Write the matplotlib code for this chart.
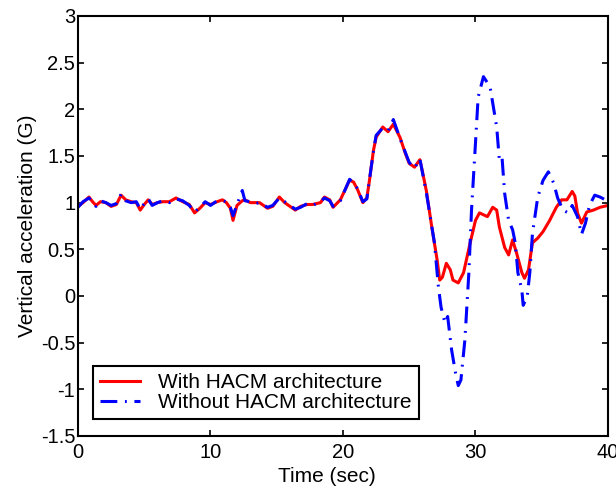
import matplotlib.pyplot as plt
import numpy as np

plt.rcParams['font.family'] = ['Liberation Sans', 'DejaVu Sans']

# -- DATA --
# red trace: with HACM
t_with = [0, 0.38, 0.83, 1.1, 1.36, 1.7, 2.1, 2.5, 2.9, 3.25, 3.6, 4.0, 4.4, 4.7,
          5.0, 5.3, 5.6, 6.0, 6.4, 6.9, 7.4, 7.9, 8.4, 8.8, 9.2, 9.6, 10.0, 10.5,
          10.9, 11.2, 11.5, 11.7, 12.0, 12.4, 12.6, 13.0, 13.4, 13.7, 14.3, 14.7,
          15.2, 15.6, 16.0, 16.4, 16.8, 17.3, 17.7, 18.3, 18.6, 19.0, 19.25, 19.8,
          20.5, 20.8, 21.1, 21.5, 21.8, 22.0, 22.3, 22.5, 23.0, 23.4, 23.8, 24.3,
          24.7, 25.0, 25.4, 25.8, 26.0, 26.3, 26.7, 27.1, 27.3, 27.5, 27.8, 28.1,
          28.3, 28.7, 29.1, 29.6, 30.0, 30.3, 30.9, 31.3, 31.6, 31.8, 32.2, 32.5,
          32.8, 33.1, 33.5, 33.7, 34.0, 34.3, 34.7, 35.1, 35.6, 36.1, 36.5, 36.9,
          37.3, 37.5, 37.7, 38.0, 38.4, 38.9, 39.4, 40.0]
g_with = [0.96, 1.0, 1.06, 1.01, 0.97, 1.01, 1.0, 0.96, 0.98, 1.08, 1.03, 1.01, 1.0, 0.92,
          0.98, 1.03, 0.98, 1.0, 1.01, 1.01, 1.05, 1.01, 0.98, 0.89, 0.94, 1.0, 0.98, 1.01,
          1.03, 1.0, 0.94, 0.81, 0.97, 1.02, 1.03, 1.0, 1.0, 1.0, 0.94, 0.96,
          1.06, 1.0, 0.96, 0.92, 0.96, 0.98, 0.98, 1.0, 1.06, 1.03, 0.95, 1.03,
          1.24, 1.22, 1.14, 1.0, 1.05, 1.24, 1.56, 1.70, 1.81, 1.76, 1.84, 1.70,
          1.53, 1.42, 1.38, 1.46, 1.33, 1.12, 0.74, 0.39, 0.17, 0.2, 0.35, 0.28,
          0.17, 0.14, 0.25, 0.57, 0.81, 0.89, 0.85, 0.95, 0.92, 0.74, 0.52, 0.44,
          0.60, 0.46, 0.25, 0.19, 0.28, 0.57, 0.62, 0.69, 0.81, 0.95, 1.03, 1.03,
          1.12, 1.07, 0.89, 0.78, 0.9, 0.92, 0.95, 0.97]

# blue trace: without HACM
t_without = [0, 0.38, 0.83, 1.1, 1.36, 1.7, 2.1, 2.5, 2.9, 3.25, 3.6, 4.0, 4.4, 4.7,
             5.0, 5.3, 5.6, 6.0, 6.4, 6.9, 7.4, 7.9, 8.4, 8.8, 9.2, 9.6, 10.0, 10.5,
             10.9, 11.2, 11.5, 11.7, 12.0, 12.4, 12.6, 13.0, 13.4, 13.7, 14.3, 14.7,
             15.2, 15.6, 16.0, 16.4, 16.8, 17.3, 17.7, 18.3, 18.6, 19.0, 19.25, 19.8,
             20.5, 20.8, 21.1, 21.5, 21.8, 22.0, 22.3, 22.5, 23.0, 23.4, 23.8, 24.3,
             24.7, 25.0, 25.4, 25.8, 26.0, 26.3, 26.9, 27.2, 27.4, 27.7, 27.9, 28.2,
             28.5, 28.7, 28.9, 29.2, 29.5, 29.7, 30.0, 30.2, 30.6, 31.1, 31.6, 31.8,
             32.0, 32.2, 32.5, 32.8, 33.0, 33.2, 33.5, 33.6, 33.9, 34.1, 34.3, 34.7,
             35.1, 35.5, 35.9, 36.2, 36.6, 37.0, 37.3, 37.7, 38.0, 38.3, 38.6, 39.0,
             39.4, 39.8, 40.0]
g_without = [0.95, 1.01, 1.05, 1.0, 0.96, 1.02, 1.0, 0.97, 0.99, 1.09, 1.02, 1.0, 1.01, 0.93,
             0.99, 1.04, 0.97, 1.0, 1.02, 1.0, 1.04, 1.02, 0.97, 0.9, 0.95, 1.01, 0.97, 1.02,
             1.02, 1.01, 0.95, 0.86, 0.98, 1.13, 1.02, 1.01, 0.99, 1.0, 0.95, 0.97,
             1.05, 1.01, 0.97, 0.93, 0.95, 0.99, 0.97, 1.01, 1.05, 1.02, 0.96, 1.02,
             1.25, 1.21, 1.15, 1.01, 1.04, 1.25, 1.55, 1.72, 1.80, 1.77, 1.89, 1.69,
             1.54, 1.43, 1.37, 1.47, 1.32, 1.10, 0.57, 0.1, -0.12, -0.29, -0.22, -0.58,
             -0.83, -0.96, -0.9, -0.47, 0.25, 0.92, 1.64, 2.13, 2.35, 2.24, 1.81, 1.46,
             1.49, 1.10, 0.81, 0.71, 0.57, 0.25, 0.06, -0.1, -0.01, 0.25, 0.67, 1.06,
             1.24, 1.33, 1.21, 1.05, 0.92, 0.89, 0.97, 0.85, 0.66, 0.78, 0.97, 1.08,
             1.06, 1.03, 1.0]

x_ticks = [0, 10, 20, 30, 40]
y_ticks = np.arange(-1.5, 3.01, 0.5)

# -- PLOT --
fig = plt.figure(figsize=(6.16, 4.88), dpi=100)
ax = fig.add_axes([0.1266, 0.1066, 0.8604, 0.8607])

ax.plot(t_with, g_with, color='#ff0000', lw=2.2, label='With HACM architecture')
ax.plot(t_without, g_without, color='#0000ff', lw=2.2, dashes=(5.5, 2.5, 0.6, 2.5),
        label='Without HACM architecture')

ax.set_xlim(0, 40)
ax.set_ylim(-1.5, 3)
ax.set_xticks(x_ticks)
ax.set_yticks(y_ticks)
ax.set_yticklabels([f'{v:g}' for v in y_ticks])
ax.tick_params(direction='in', top=True, right=True, labelsize=14.5, length=4, width=1.2)
ax.tick_params(axis='y', pad=2)
ax.tick_params(axis='x', pad=5)
for s in ax.spines.values():
    s.set_linewidth(1.5)

ax.set_xlabel('Time (sec)', fontsize=15, labelpad=1)
ax.xaxis.set_label_coords(0.47, -0.075)
ax.set_ylabel('Vertical acceleration (G)', fontsize=15, labelpad=3)

leg = ax.legend(loc='lower left', bbox_to_anchor=(0.028, 0.04), borderaxespad=0,
                fontsize=15, fancybox=False, framealpha=1, edgecolor='black',
                handlelength=1.9, borderpad=0.35, labelspacing=0.05,
                handletextpad=0.9)
leg.get_frame().set_linewidth(1.5)

fig.savefig('out.png', dpi=100)
